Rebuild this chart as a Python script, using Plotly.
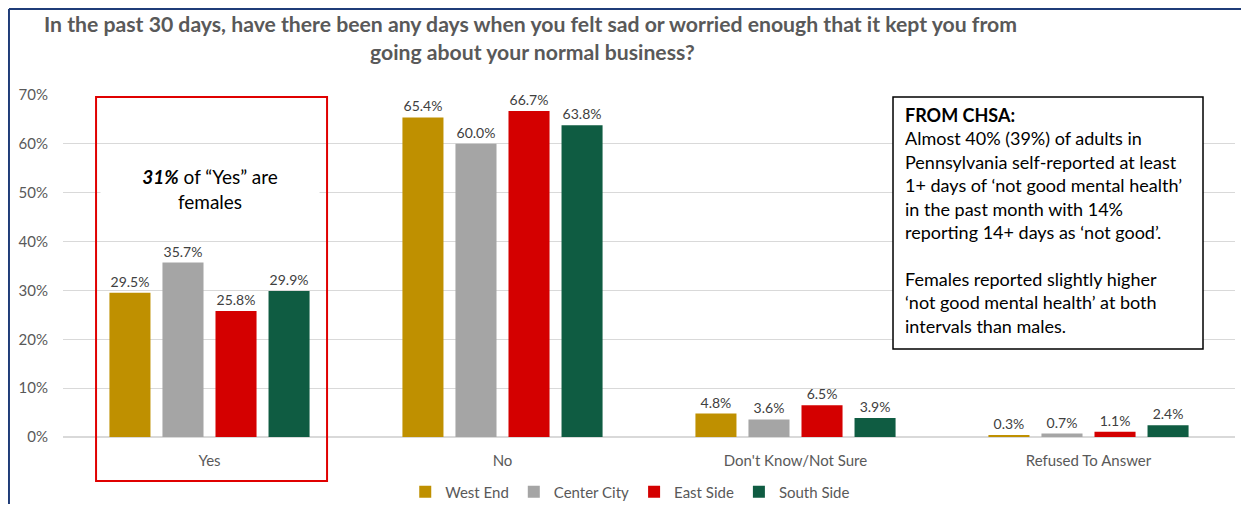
import plotly.graph_objects as go

categories = ["Yes", "No", "Don't Know/Not Sure", "Refused To Answer"]
series_names = ["West End", "Center City", "East Side", "South Side"]
west_end = [29.5, 65.4, 4.8, 0.3]
center_city = [35.7, 60.0, 3.6, 0.7]
east_side = [25.8, 66.7, 6.5, 1.1]
south_side = [29.9, 63.8, 3.9, 2.4]
y_ticks = [0, 10, 20, 30, 40, 50, 60, 70]

colors = ["#BF9000", "#A5A5A5", "#D40000", "#0F5C42"]
FONT = "Lato"
GRAY = "#595959"

title_lines = ["In the past 30 days, have there been any days when you felt sad or worried enough that it kept you from",
               "going about your normal business?"]

chsa_text = ("<b>FROM CHSA:</b><br>"
             "Almost 40% (39%) of adults in<br>"
             "Pennsylvania self-reported at least<br>"
             "1+ days of \u2018not good mental health\u2019<br>"
             "in the past month with 14%<br>"
             "reporting 14+ days as \u2018not good\u2019.<br>"
             "<br>"
             "Females reported slightly higher<br>"
             "\u2018not good mental health\u2019 at both<br>"
             "intervals than males.")

fig = go.Figure()
for name, vals, col in zip(series_names, [west_end, center_city, east_side, south_side], colors):
    fig.add_trace(go.Bar(
        x=categories, y=vals, name=name,
        marker=dict(color=col, line=dict(width=0)),
        texttemplate="%{y:.1f}%", textposition="outside",
        textfont=dict(family=FONT, size=14, color="#404040"),
        cliponaxis=False,
    ))

# outer frame (only left and top edges show)
fig.add_shape(type="line", xref="paper", yref="paper", x0=-0.0461, x1=-0.0461, y0=1.2515, y1=-0.25,
              line=dict(color="#1F3C78", width=2))
fig.add_shape(type="line", xref="paper", yref="paper", x0=-0.0461, x1=1.02, y0=1.2515, y1=1.2515,
              line=dict(color="#1F3C78", width=2))

# red highlight around "Yes"
fig.add_shape(type="rect", xref="paper", yref="paper", x0=0.0282, x1=0.2253, y0=0.994, y1=-0.1287,
              line=dict(color="#E00000", width=2))

# CHSA box
fig.add_shape(type="rect", xref="paper", yref="paper", x0=0.7082, x1=0.9727, y0=0.994, y1=0.2573,
              line=dict(color="#000000", width=1.5), fillcolor="white", layer="above")

fig.add_annotation(xref="paper", yref="paper", x=0.7167, y=0.98, xanchor="left", yanchor="top",
                   text=chsa_text, showarrow=False, align="left",
                   font=dict(family=FONT, size=18, color="#000000"))

fig.add_annotation(xref="paper", yref="y", x=0.1254, y=50.8, xanchor="center", yanchor="middle",
                   text="<b><i>31%</i></b> of \u201cYes\u201d are<br>females",
                   showarrow=False, align="center", bgcolor="white", width=206, borderpad=6,
                   font=dict(family=FONT, size=19, color="#000000"))

# title, one annotation per line
for txt, xc, yc in zip(title_lines, [0.3985, 0.4002], [1.2075, 1.1257]):
    fig.add_annotation(xref="paper", yref="paper", x=xc, y=yc, xanchor="center", yanchor="middle",
                       text=f"<b>{txt}</b>", showarrow=False,
                       font=dict(family=FONT, size=21.2, color=GRAY))

fig.update_layout(
    width=1233, height=496,
    margin=dict(l=55, r=6, t=87, b=67, autoexpand=False),
    paper_bgcolor="white", plot_bgcolor="white",
    barmode="group", bargap=0.276, bargroupgap=0.226,
    font=dict(family=FONT, color=GRAY),
    legend=dict(orientation="h", x=0.484, xanchor="center", y=-0.1608, yanchor="middle",
                font=dict(family=FONT, size=15, color=GRAY), itemwidth=30, traceorder="normal"),
    xaxis=dict(showline=False, ticks="", ticklabelstandoff=13,
               tickfont=dict(family=FONT, size=15, color=GRAY)),
    yaxis=dict(range=[0, 70], tickvals=y_ticks, ticktext=[f"{v}%" for v in y_ticks],
               showgrid=True, gridcolor="#D9D9D9", gridwidth=1, zeroline=True, zerolinecolor="#D9D9D9",
               tickfont=dict(family=FONT, size=15, color=GRAY), ticks="", ticklabelstandoff=14),
)

fig.write_html("out.html")
